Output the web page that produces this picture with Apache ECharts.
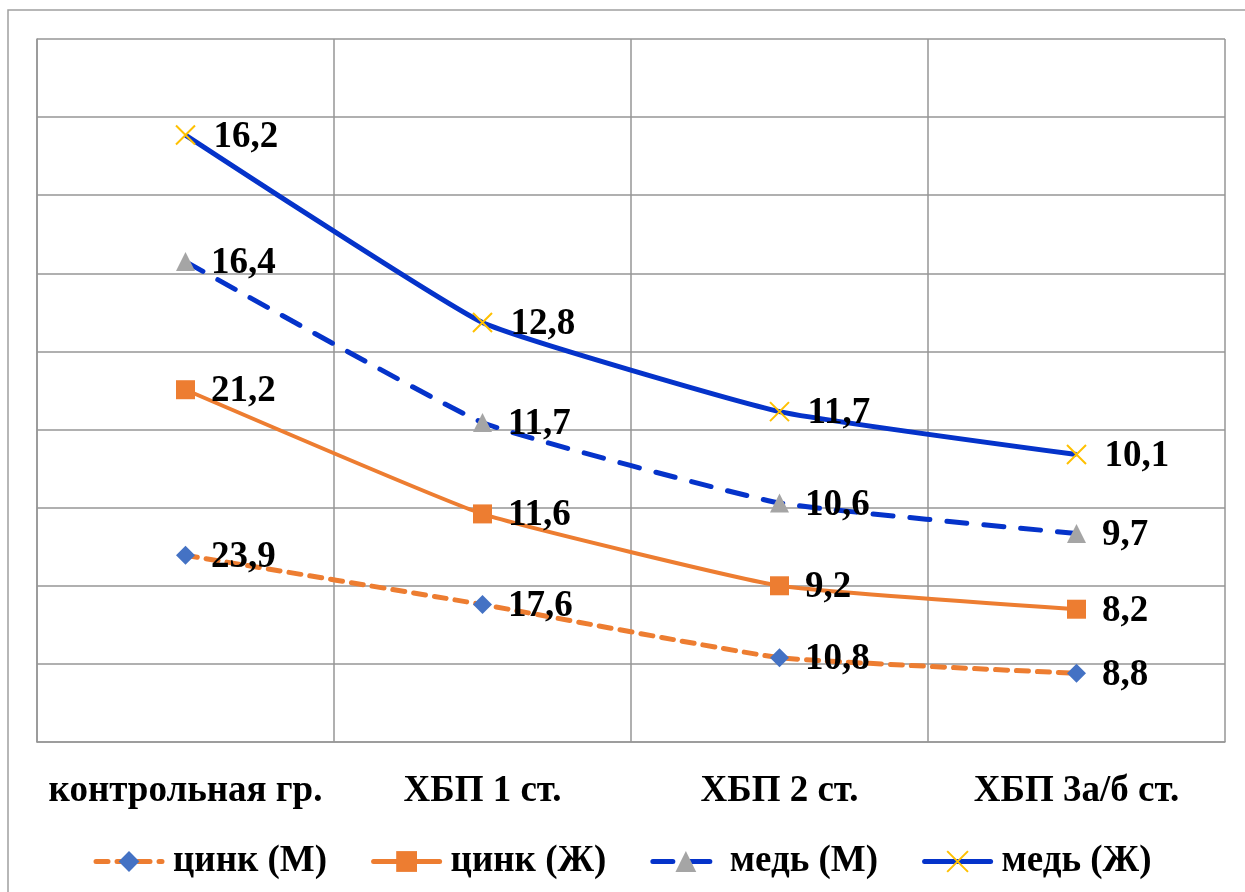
<!DOCTYPE html>
<html>
<head>
<meta charset="utf-8">
<script src="https://cdn.jsdelivr.net/npm/echarts@6/dist/echarts.min.js"></script>
<style>
  html, body { margin: 0; padding: 0; background: #fff; }
  #chart { width: 1245px; height: 892px; }
</style>
</head>
<body>
<div id="chart"></div>
<script>
// Groups along the horizontal axis
const categories = ['контрольная гр.', 'ХБП 1 ст.', 'ХБП 2 ст.', 'ХБП 3а/б ст.'];

// Values per group (series are stacked in this order)
const zincMale   = [23.9, 17.6, 10.8, 8.8];
const zincFemale = [21.2, 11.6, 9.2, 8.2];
const copperMale   = [16.4, 11.7, 10.6, 9.7];
const copperFemale = [16.2, 12.8, 11.7, 10.1];

const seriesNames = ['цинк (М)', 'цинк (Ж)', 'медь (М)', 'медь (Ж)'];

const FONT = '"Liberation Serif", "Times New Roman", serif';
const ORANGE = '#ED7D31';
const BLUE = '#0533CA';
const SMOOTH = 0.12;

const commaFmt = p => String(p.value).replace('.', ',');

function labelCfg() {
  return {
    show: true,
    position: 'right',
    distance: 16,
    offset: [0, 2],
    formatter: commaFmt,
    color: '#000',
    fontFamily: FONT,
    fontWeight: 'bold',
    fontSize: 37
  };
}

const crossPath = 'path://M0,0L10,10M10,0L0,10';

const chart = echarts.init(document.getElementById('chart'), null, { renderer: 'canvas' });

chart.setOption({
  backgroundColor: '#fff',
  animation: false,
  graphic: [{
    type: 'rect',
    shape: { x: 8, y: 10, width: 1240, height: 900 },
    style: { fill: 'none', stroke: '#A0A0A0', lineWidth: 1.5 },
    silent: true
  }],
  grid: { left: 37, right: 20, top: 39, bottom: 150 },
  xAxis: {
    type: 'category',
    data: categories,
    boundaryGap: true,
    axisLine: { show: true, lineStyle: { color: '#969696', width: 1.5 } },
    axisTick: { show: false },
    splitLine: { show: true, lineStyle: { color: '#969696', width: 1.5 } },
    axisLabel: {
      color: '#000',
      fontFamily: FONT,
      fontWeight: 'bold',
      fontSize: 37,
      margin: 31,
      interval: 0
    }
  },
  yAxis: {
    type: 'value',
    min: 0,
    max: 90,
    interval: 10,
    axisLine: { show: true, lineStyle: { color: '#969696', width: 1.5 } },
    axisTick: { show: false },
    axisLabel: { show: false },
    splitLine: { show: true, lineStyle: { color: '#969696', width: 1.5 } }
  },
  legend: {
    bottom: 7,
    left: 'center',
    itemWidth: 66,
    itemHeight: 26,
    itemGap: 44,
    lineStyle: { width: 5, cap: 'round' },
    textStyle: {
      color: '#000',
      fontFamily: FONT,
      fontWeight: 'bold',
      fontSize: 37,
      padding: [0, 0, 0, 6]
    },
    data: seriesNames
  },
  series: [
    {
      name: seriesNames[0],
      type: 'line',
      stack: 'total',
      data: zincMale,
      smooth: SMOOTH,
      symbol: 'diamond',
      symbolSize: 19,
      itemStyle: { color: '#4472C4' },
      lineStyle: { color: ORANGE, width: 5, type: [12, 9], cap: 'round' },
      label: labelCfg(),
      z: 2
    },
    {
      name: seriesNames[1],
      type: 'line',
      stack: 'total',
      data: zincFemale,
      smooth: SMOOTH,
      symbol: 'rect',
      symbolSize: 19,
      itemStyle: { color: ORANGE },
      lineStyle: { color: ORANGE, width: 4, type: 'solid' },
      label: labelCfg(),
      z: 2
    },
    {
      name: seriesNames[2],
      type: 'line',
      stack: 'total',
      data: copperMale,
      smooth: SMOOTH,
      symbol: 'triangle',
      symbolSize: 19,
      itemStyle: { color: '#A5A5A5' },
      lineStyle: { color: BLUE, width: 5, type: [20, 17], cap: 'round' },
      label: labelCfg(),
      z: 2
    },
    {
      name: seriesNames[3],
      type: 'line',
      stack: 'total',
      data: copperFemale,
      smooth: SMOOTH,
      symbol: crossPath,
      symbolSize: 19,
      itemStyle: { color: 'none', borderColor: '#FFC000', borderWidth: 2 },
      lineStyle: { color: BLUE, width: 5, type: 'solid' },
      label: labelCfg(),
      z: 2
    }
  ]
});
</script>
</body>
</html>
